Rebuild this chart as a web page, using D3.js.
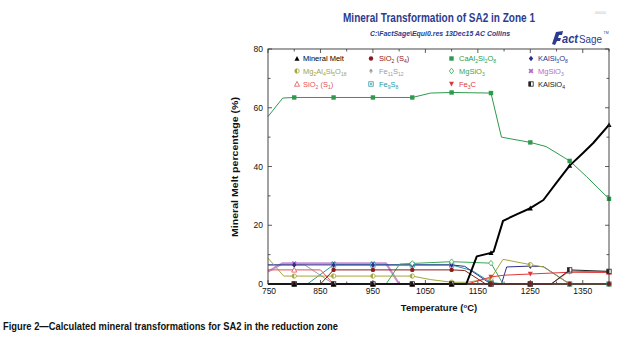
<!DOCTYPE html>
<html>
<head>
<meta charset="utf-8">
<script src="https://cdn.jsdelivr.net/npm/d3@7"></script>
<style>
  body { margin: 0; background: #fff; }
  text { font-family: 'Liberation Sans Narrow', 'Arial Narrow', 'Liberation Sans', Arial, sans-serif; }
</style>
</head>
<body>
<svg id="chart" width="629" height="346"></svg>
<script>
// ---- data (temperature in degC, percentage) ----
const markerTemps = [800, 875, 950, 1025, 1100, 1175, 1250, 1325, 1400];
const xTicks = [750, 850, 950, 1050, 1150, 1250, 1350];
const yTicks = [0, 20, 40, 60, 80];

const meltData = [[750,0],[800,0],[875,0],[950,0],[1025,0],[1100,0],[1128,0],[1148,9.4],[1175,10.6],[1180,11],[1198,21.5],[1225,23.8],[1250,25.8],[1275,28.6],[1300,34.5],[1325,40.3],[1350,44.5],[1370,48],[1400,54.2]];
const sio2S4Data = [[750,0],[800,0],[850,0],[875,4.8],[950,4.8],[1025,4.8],[1100,4.8],[1125,4.6],[1165,0],[1175,0],[1250,0],[1325,0],[1400,0]];
const anorthiteData = [[750,57],[778,63.3],[800,63.5],[875,63.5],[950,63.5],[1025,63.5],[1060,65],[1100,65.2],[1175,65],[1195,50],[1250,48.2],[1280,46.8],[1325,41.9],[1357,36.6],[1400,29]];
const kalsi3o8Data = [[750,6.5],[800,6.5],[875,6.5],[950,6.5],[1025,6.5],[1100,6.5],[1125,6],[1150,3],[1175,0],[1195,0],[1205,5.8],[1250,6.1],[1275,5.9],[1325,0],[1400,0]];
const cordieriteData = [[750,8.8],[780,2.7],[800,2.7],[875,2.7],[950,2.7],[1025,2.7],[1060,1.5],[1100,0.6],[1130,0.6],[1175,1.9],[1198,8.4],[1250,6.6],[1275,5.8],[1325,0],[1400,0]];
const fe11s12Data = [[750,6.5],[800,6.5],[820,6.5],[875,0],[950,0],[1025,0],[1100,0],[1175,0],[1250,0],[1325,0],[1400,0]];
const mgsio3Data = [[750,0],[800,0],[875,0],[950,0],[975,0],[1001,6.8],[1025,7],[1100,7.6],[1175,7.1],[1198,0],[1250,0],[1325,0],[1400,0]];
const mgsio3bData = [[750,4.2],[777,7],[800,7],[875,7],[950,7],[975,7],[1000,0],[1025,0],[1100,0],[1175,0],[1250,0],[1325,0],[1400,0]];
const sio2S1Data = [[750,4.8],[800,4.8],[850,4.8],[875,0],[950,0],[1025,0],[1100,0],[1175,0],[1250,0],[1290,0],[1325,4.4],[1400,4.0]];
const fe9s8Data = [[750,0],[800,0],[825,0],[875,6.5],[950,6.5],[1025,6.5],[1100,6.5],[1140,4.5],[1175,0.5],[1200,0],[1250,0],[1325,0],[1400,0]];
const fe3cData = [[750,0],[800,0],[875,0],[950,0],[1025,0],[1100,0],[1130,0],[1175,2.4],[1200,3],[1250,3.4],[1325,4.0],[1400,3.9]];
const kalsio4Data = [[750,0],[800,0],[875,0],[950,0],[1025,0],[1100,0],[1175,0],[1250,0],[1290,0],[1325,4.8],[1400,4.3]];

// legend order (row major, 4 columns)
const series = [
  { name: 'Mineral Melt',         data: meltData,       color: '#000000', marker: 'triUp',   width: 2 },
  { name: 'SiO{2} (S{4})',        data: sio2S4Data,     color: '#8b1a1a', marker: 'circle',  width: 1 },
  { name: 'CaAl{2}Si{2}O{8}',     data: anorthiteData,  color: '#2f9a4e', marker: 'square',  width: 1 },
  { name: 'KAlSi{3}O{8}',         data: kalsi3o8Data,   color: '#2b2f8c', marker: 'diamond', width: 1 },
  { name: 'Mg{2}Al{4}Si{5}O{18}', data: cordieriteData, color: '#a5a53a', marker: 'halfCircle', width: 1 },
  { name: 'Fe{11}S{12}',          data: fe11s12Data,    color: '#9a9aa6', marker: 'spade',   width: 1 },
  { name: 'MgSiO{3}',             data: mgsio3Data,     color: '#3aa852', marker: 'openDiamond', width: 1 },
  { name: 'MgSiO{3}',             data: mgsio3bData,    color: '#b46cc8', marker: 'times',   width: 2.2 },
  { name: 'SiO{2} (S{1})',        data: sio2S1Data,     color: '#e05454', marker: 'openTri', width: 1 },
  { name: 'Fe{9}S{8}',            data: fe9s8Data,      color: '#2a9aa2', marker: 'dotSquare', width: 1 },
  { name: 'Fe{3}C',               data: fe3cData,       color: '#e03838', marker: 'triDown', width: 1 },
  { name: 'KAlSiO{4}',            data: kalsio4Data,    color: '#222222', marker: 'halfSquare', width: 1 }
];

const svg = d3.select('#chart');
const navy = '#2b3b8e';

// plot box
const pLeft = 268, pRight = 609, pTop = 49, pBottom = 284;
const x = d3.scaleLinear().domain([750, 1400]).range([pLeft, pRight]);
const y = d3.scaleLinear().domain([0, 80]).range([pBottom, pTop]);

// header
svg.append('text').attr('x', 439).attr('y', 22).attr('text-anchor', 'middle')
  .attr('fill', navy).attr('font-size', 12.5).attr('font-weight', 'bold')
  .attr('textLength', 192).attr('lengthAdjust', 'spacingAndGlyphs')
  .text('Mineral Transformation of SA2 in Zone 1');
svg.append('text').attr('x', 440).attr('y', 36).attr('text-anchor', 'middle')
  .attr('fill', navy).attr('font-size', 7).attr('font-weight', 'bold').attr('font-style', 'italic')
  .attr('textLength', 140).attr('lengthAdjust', 'spacingAndGlyphs')
  .text('C:\\FactSage\\Equi0.res  13Dec15 AC Collins');
svg.append('text').attr('x', 606).attr('y', 14).attr('text-anchor', 'end')
  .attr('fill', '#bbb').attr('font-size', 4).text('00000');

// FactSage logo
const logo = svg.append('g').attr('transform', 'translate(556,43)');
logo.append('path').attr('d', 'M0,-11 L7,-12 L6,-8 L3,-8 L2,-5 L5,-5 L4,-2 L1,-2 L-1,2 L-4,1 Z').attr('fill', navy);
logo.append('text').attr('x', 6).attr('y', 0).attr('fill', navy).attr('font-size', 12)
  .attr('font-weight', 'bold').attr('font-style', 'italic').attr('font-family', 'Liberation Serif, serif')
  .attr('textLength', 16).attr('lengthAdjust', 'spacingAndGlyphs').text('act');
logo.append('text').attr('x', 23).attr('y', 0).attr('fill', navy).attr('font-size', 11)
  .attr('font-family', 'Liberation Serif, serif')
  .attr('textLength', 23).attr('lengthAdjust', 'spacingAndGlyphs').text('Sage');
logo.append('text').attr('x', 47.5).attr('y', -9).attr('fill', navy).attr('font-size', 3.5).text('TM');

// ticks (inward, all four sides)
const axisG = svg.append('g').attr('stroke', '#333').attr('stroke-width', 0.8);
d3.range(750, 1401, 50).forEach(t => {
  const len = (t - 750) % 100 === 0 ? 4 : 2.5;
  axisG.append('line').attr('x1', x(t)).attr('x2', x(t)).attr('y1', pBottom).attr('y2', pBottom - len);
  axisG.append('line').attr('x1', x(t)).attr('x2', x(t)).attr('y1', pTop).attr('y2', pTop + len);
});
d3.range(0, 81, 10).forEach(v => {
  const len = v % 20 === 0 ? 4 : 2.5;
  axisG.append('line').attr('x1', pLeft).attr('x2', pLeft + len).attr('y1', y(v)).attr('y2', y(v));
  axisG.append('line').attr('x1', pRight).attr('x2', pRight - len).attr('y1', y(v)).attr('y2', y(v));
});

// tick labels
svg.append('g').selectAll('text').data(xTicks).join('text')
  .attr('x', d => x(d) + (d === 750 ? 1 : 0)).attr('y', 294).attr('text-anchor', 'middle')
  .attr('font-size', 8.5).attr('fill', '#111').text(d => d);
svg.append('g').selectAll('text').data(yTicks).join('text')
  .attr('x', 263).attr('y', d => y(d) + 3).attr('text-anchor', 'end')
  .attr('font-size', 8.5).attr('fill', '#111').text(d => d);

// axis titles
const xt = svg.append('text').attr('x', 439).attr('y', 311).attr('text-anchor', 'middle')
  .attr('font-size', 9.5).attr('font-weight', 'bold').attr('fill', '#111');
xt.append('tspan').text('Temperature (');
xt.append('tspan').attr('font-size', 6).attr('dy', -3.5).text('o');
xt.append('tspan').attr('dy', 3.5).text('C)');
svg.append('text').attr('transform', 'translate(238,167) rotate(-90)').attr('text-anchor', 'middle')
  .attr('font-size', 9.5).attr('font-weight', 'bold').attr('fill', '#111')
  .attr('textLength', 140).attr('lengthAdjust', 'spacingAndGlyphs')
  .text('Mineral Melt percentage (%)');

// caption
svg.append('text').attr('x', 3).attr('y', 330).attr('font-size', 11).attr('font-weight', 'bold')
  .attr('fill', '#111').attr('textLength', 335).attr('lengthAdjust', 'spacingAndGlyphs')
  .text('Figure 2\u2014Calculated mineral transformations for SA2 in the reduction zone');

// markers
function drawMarker(g, type, color, cx, cy) {
  const m = g.append('g').attr('transform', `translate(${cx},${cy})`);
  const s = 2.2;
  if (type === 'triUp') m.append('path').attr('d', `M0,${-s-0.4}L${s+0.3},${s}L${-s-0.3},${s}Z`).attr('fill', color);
  else if (type === 'triDown') m.append('path').attr('d', `M0,${s+0.4}L${s+0.3},${-s}L${-s-0.3},${-s}Z`).attr('fill', color);
  else if (type === 'openTri') m.append('path').attr('d', `M0,${-s-0.4}L${s+0.3},${s}L${-s-0.3},${s}Z`).attr('fill', '#fff').attr('stroke', color).attr('stroke-width', 0.8);
  else if (type === 'circle') m.append('circle').attr('r', s).attr('fill', color);
  else if (type === 'square') m.append('rect').attr('x', -s).attr('y', -s).attr('width', 2*s).attr('height', 2*s).attr('fill', color);
  else if (type === 'diamond') m.append('path').attr('d', `M0,${-s-0.6}L${s},0L0,${s+0.6}L${-s},0Z`).attr('fill', color);
  else if (type === 'openDiamond') m.append('path').attr('d', `M0,${-s-0.6}L${s},0L0,${s+0.6}L${-s},0Z`).attr('fill', '#fff').attr('stroke', color).attr('stroke-width', 0.8);
  else if (type === 'halfCircle') {
    m.append('circle').attr('r', s).attr('fill', '#fff').attr('stroke', color).attr('stroke-width', 0.8);
    m.append('path').attr('d', `M0,${-s}A${s},${s} 0 0 0 0,${s}Z`).attr('fill', color);
  } else if (type === 'halfSquare') {
    m.append('rect').attr('x', -s).attr('y', -s).attr('width', 2*s).attr('height', 2*s).attr('fill', '#fff').attr('stroke', color).attr('stroke-width', 0.8);
    m.append('rect').attr('x', -s).attr('y', -s).attr('width', s).attr('height', 2*s).attr('fill', color);
  } else if (type === 'dotSquare') {
    m.append('rect').attr('x', -s).attr('y', -s).attr('width', 2*s).attr('height', 2*s).attr('fill', '#fff').attr('stroke', color).attr('stroke-width', 0.8);
    m.append('rect').attr('x', -0.8).attr('y', -0.8).attr('width', 1.6).attr('height', 1.6).attr('fill', color);
  } else if (type === 'times') {
    m.append('path').attr('d', d3.symbol(d3.symbolCross, 16)()).attr('transform', 'rotate(45)').attr('fill', color);
  } else if (type === 'spade') {
    m.append('path').attr('d', `M0,${-s}C${s},${-0.5} ${s},${s*0.8} 0,${0.6}C${-s},${s*0.8} ${-s},-0.5 0,${-s}Z`).attr('fill', color);
    m.append('path').attr('d', `M0,0.3L0.9,${s}L-0.9,${s}Z`).attr('fill', color);
  }
}

// lines
const line = d3.line().x(d => x(d[0])).y(d => y(d[1]));
const plot = svg.append('g');
const drawOrder = [7, 9, 5, 3, 4, 6, 2, 10, 8, 11, 1, 0];
drawOrder.forEach(i => {
  const s = series[i];
  plot.append('path').datum(s.data).attr('d', line)
    .attr('fill', 'none').attr('stroke', s.color).attr('stroke-width', s.width)
    .attr('stroke-opacity', i === 7 ? 0.75 : 1).attr('stroke-linejoin', 'round');
});
drawOrder.forEach(i => {
  const s = series[i];
  s.data.filter(d => markerTemps.includes(d[0])).forEach(d => drawMarker(plot, s.marker, s.color, x(d[0]), y(d[1])));
});

// frame
svg.append('rect').attr('x', pLeft).attr('y', pTop).attr('width', pRight - pLeft).attr('height', pBottom - pTop)
  .attr('fill', 'none').attr('stroke', '#333').attr('stroke-width', 0.9);

// legend
const colMarkerX = [297, 371, 451.5, 531];
const colTextX = [303, 379, 459, 538];
const rowY = [58.5, 71, 84];
function richText(sel, label) {
  const parts = label.split(/(\{[^}]*\})/).filter(p => p.length);
  let sub = false;
  parts.forEach(p => {
    if (p[0] === '{') {
      sel.append('tspan').attr('font-size', 5).attr('dy', sub ? 0 : 2).text(p.slice(1, -1));
      sub = true;
    } else {
      sel.append('tspan').attr('font-size', 7.5).attr('dy', sub ? -2 : 0).text(p);
      sub = false;
    }
  });
}
const legend = svg.append('g');
series.forEach((s, i) => {
  const c = i % 4, r = Math.floor(i / 4);
  drawMarker(legend, s.marker, s.color, colMarkerX[c], rowY[r]);
  const t = legend.append('text').attr('x', colTextX[c]).attr('y', rowY[r] + 2.7).attr('fill', s.color);
  richText(t, s.name);
});
</script>
</body>
</html>
